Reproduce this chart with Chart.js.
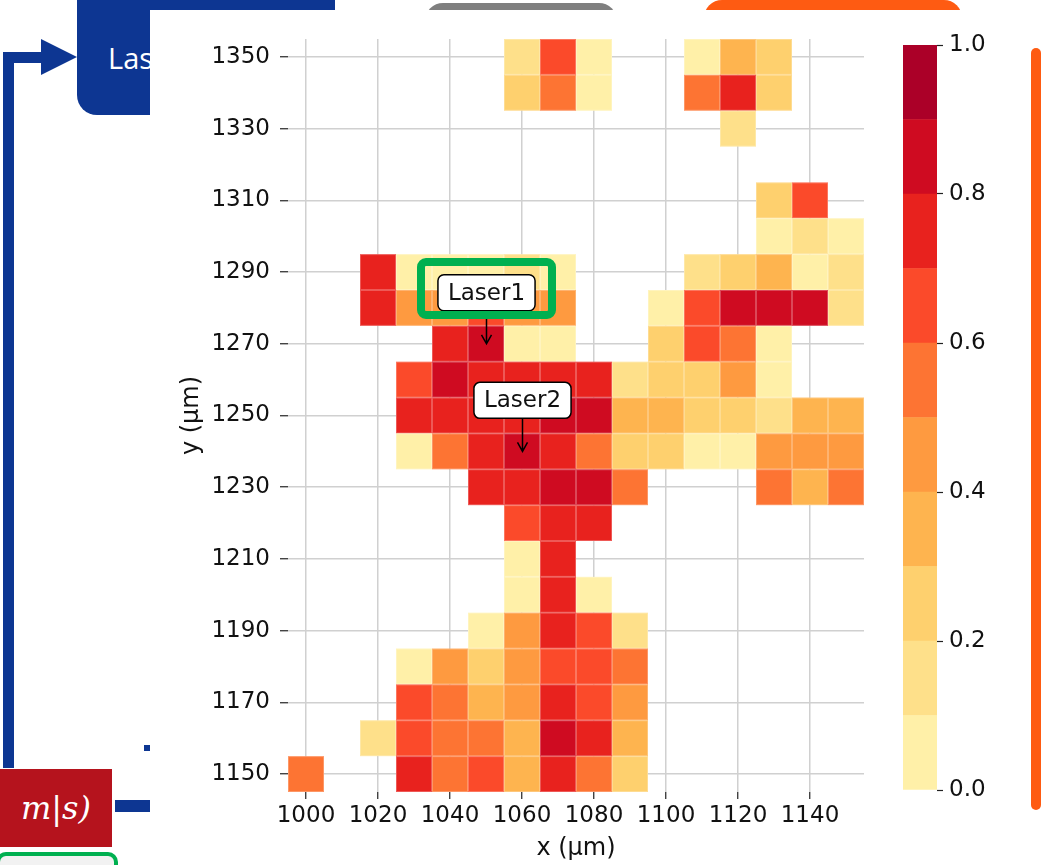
<!DOCTYPE html>
<html>
<head>
<meta charset="utf-8">
<script src="https://cdn.jsdelivr.net/npm/chart.js@4.4.0/dist/chart.umd.min.js"></script>
<style>
  html, body { margin: 0; padding: 0; background: #fff; }
  body { width: 1043px; height: 865px; position: relative; overflow: hidden; font-family: "Open Sans", sans-serif; }
  .abs { position: absolute; }
  .blue { background: #0d3692; }
</style>
</head>
<body>
  <!-- slide pieces behind the figure -->
  <div class="abs blue" style="left:77px;top:-20px;width:258px;height:135px;border-radius:20px;"></div>
  <div class="abs" style="left:108px;top:43px;color:#fff;font-size:29px;line-height:29px;">Las</div>
  <div class="abs" style="left:425px;top:3px;width:192px;height:40px;border-radius:18px;background:#7f7f7f;"></div>
  <div class="abs" style="left:704px;top:0px;width:258px;height:40px;border-radius:18px;background:#fe5b12;"></div>

  <div class="abs blue" style="left:3px;top:52px;width:11px;height:716px;"></div>
  <div class="abs blue" style="left:3px;top:52px;width:42px;height:11px;"></div>
  <div class="abs" style="left:41px;top:39px;width:0;height:0;border-top:18px solid transparent;border-bottom:18px solid transparent;border-left:36px solid #0d3692;"></div>
  <div class="abs blue" style="left:144px;top:745px;width:6px;height:6px;"></div>
  <div class="abs blue" style="left:115px;top:800px;width:35px;height:12px;"></div>
  <div class="abs" style="left:0;top:769px;width:112px;height:78px;background:#b5131d;color:#fff;font-family:'DejaVu Serif',serif;font-style:italic;font-size:32px;line-height:78px;text-align:center;">m|s)</div>
  <div class="abs" style="left:-4px;top:852px;width:122px;height:40px;box-sizing:border-box;border:4px solid #00b050;border-radius:10px;background:#f2f2f2;"></div>

  <!-- figure panel -->
  <div class="abs" style="left:150px;top:10px;width:893px;height:855px;background:#fff;"></div>
  <canvas id="heat" class="abs" width="893" height="855" style="left:150px;top:10px;"></canvas>
  <canvas id="cbar" class="abs" width="110" height="790" style="left:895px;top:20px;"></canvas>

  <!-- slide pieces on top -->
  <div class="abs" style="left:417px;top:258px;width:139px;height:61px;box-sizing:border-box;border:8px solid #00b050;border-radius:9px;"></div>
  <div class="abs" style="left:1031px;top:48px;width:10px;height:762px;border-radius:5px;background:#fe5b12;"></div>

<script>
// grid of the heat map
const xCols = [1000, 1010, 1020, 1030, 1040, 1050, 1060, 1070, 1080, 1090, 1100, 1110, 1120, 1130, 1140, 1150];
const yRows = [1350, 1340, 1330, 1320, 1310, 1300, 1290, 1280, 1270, 1260, 1250, 1240, 1230, 1220, 1210, 1200, 1190, 1180, 1170, 1160, 1150];
const xTicks = [1000, 1020, 1040, 1060, 1080, 1100, 1120, 1140];
const yTicks = [1150, 1170, 1190, 1210, 1230, 1250, 1270, 1290, 1310, 1330, 1350];
const cbBounds = [0, 0.1, 0.2, 0.3, 0.4, 0.5, 0.6, 0.7, 0.8, 0.9, 1.0];
const cbTicks = [0, 0.2, 0.4, 0.6, 0.8, 1.0];
const levelColors = ['#fff0a8', '#fee08a', '#fed06e', '#feb44f', '#fe9a40',
                     '#fd7433', '#fb4a2a', '#e8221e', '#cf0b21', '#ab0028'];

const _ = null;
// one row per y value (top to bottom), one column per x value
const zValues = [
  [_, _, _, _, _, _, .15, .65, .05, _, _, .05, .35, .25, _, _],
  [_, _, _, _, _, _, .25, .55, .05, _, _, .55, .75, .25, _, _],
  [_, _, _, _, _, _, _, _, _, _, _, _, .15, _, _, _],
  [_, _, _, _, _, _, _, _, _, _, _, _, _, _, _, _],
  [_, _, _, _, _, _, _, _, _, _, _, _, _, .25, .65, _],
  [_, _, _, _, _, _, _, _, _, _, _, _, _, .05, .15, .05],
  [_, _, .75, .05, .05, .05, .15, .05, _, _, _, .15, .25, .35, .05, .15],
  [_, _, .75, .45, .45, .65, .45, .45, _, _, .05, .65, .85, .85, .85, .15],
  [_, _, _, _, .75, .85, .05, .05, _, _, .25, .65, .55, .05, _, _],
  [_, _, _, .65, .85, .75, .75, .75, .75, .15, .25, .25, .45, .05, _, _],
  [_, _, _, .75, .75, .75, .75, .85, .85, .35, .35, .25, .25, .15, .35, .35],
  [_, _, _, .05, .55, .75, .85, .75, .55, .25, .25, .05, .05, .45, .45, .45],
  [_, _, _, _, _, .75, .75, .85, .85, .55, _, _, _, .55, .35, .55],
  [_, _, _, _, _, _, .65, .75, .75, _, _, _, _, _, _, _],
  [_, _, _, _, _, _, .05, .75, _, _, _, _, _, _, _, _],
  [_, _, _, _, _, _, .05, .75, .05, _, _, _, _, _, _, _],
  [_, _, _, _, _, .05, .45, .75, .65, .15, _, _, _, _, _, _],
  [_, _, _, .05, .45, .25, .45, .65, .65, .55, _, _, _, _, _, _],
  [_, _, _, .65, .55, .35, .45, .75, .65, .45, _, _, _, _, _, _],
  [_, _, .15, .65, .55, .55, .35, .85, .75, .35, _, _, _, _, _, _],
  [.55, _, _, .75, .55, .65, .35, .75, .55, .25, _, _, _, _, _, _]
];

const annoText = ['Laser1', 'Laser2'];
const annoX = [1050, 1060];
const annoY = [1270, 1240];

function colorFor(v) {
  let i = 0;
  while (i < levelColors.length - 1 && v >= cbBounds[i + 1]) i++;
  return levelColors[i];
}

const points = [];
yRows.forEach((yv, r) => {
  xCols.forEach((xv, c) => {
    if (zValues[r][c] !== null) points.push({x: xv, y: yv, v: zValues[r][c]});
  });
});

const halfX = (xCols[1] - xCols[0]) / 2;
const halfY = (yRows[0] - yRows[1]) / 2;
const tickFont = {family: 'DejaVu Sans', size: 23};
const titleFont = {family: 'DejaVu Sans', size: 24};

const heatCells = {
  id: 'heatCells',
  beforeDatasetsDraw(chart) {
    const ctx = chart.ctx, sx = chart.scales.x, sy = chart.scales.y;
    ctx.save();
    chart.data.datasets[0].data.forEach(p => {
      const x0 = sx.getPixelForValue(p.x - halfX), x1 = sx.getPixelForValue(p.x + halfX);
      const y0 = sy.getPixelForValue(p.y + halfY), y1 = sy.getPixelForValue(p.y - halfY);
      ctx.fillStyle = colorFor(p.v);
      ctx.fillRect(x0, y0, x1 - x0, y1 - y0);
      ctx.strokeStyle = 'rgba(255,255,255,0.25)';
      ctx.lineWidth = 1;
      ctx.strokeRect(x0 + 0.5, y0 + 0.5, x1 - x0 - 1, y1 - y0 - 1);
    });
    ctx.restore();
  }
};

const laserLabels = {
  id: 'laserLabels',
  afterDatasetsDraw(chart) {
    const ctx = chart.ctx, sx = chart.scales.x, sy = chart.scales.y;
    ctx.save();
    ctx.font = '23px "DejaVu Sans"';
    annoText.forEach((t, i) => {
      const px = Math.round(sx.getPixelForValue(annoX[i])) + 0.5;
      const py = sy.getPixelForValue(annoY[i]);
      const cy = py - 51;
      const w = ctx.measureText(t).width + 20, h = 36;
      // arrow
      ctx.strokeStyle = '#000';
      ctx.lineWidth = 1.5;
      ctx.beginPath();
      ctx.moveTo(px, cy + h / 2);
      ctx.lineTo(px, py);
      ctx.moveTo(px - 5, py - 9);
      ctx.lineTo(px, py);
      ctx.lineTo(px + 5, py - 9);
      ctx.stroke();
      // box
      ctx.beginPath();
      ctx.roundRect(px - w / 2, cy - h / 2, w, h, 6);
      ctx.fillStyle = '#fff';
      ctx.fill();
      ctx.stroke();
      ctx.fillStyle = '#111';
      ctx.textAlign = 'center';
      ctx.textBaseline = 'middle';
      ctx.fillText(t, px, cy + 1);
    });
    ctx.restore();
  }
};

new Chart(document.getElementById('heat'), {
  type: 'scatter',
  data: { datasets: [{ data: points, pointRadius: 0, pointHoverRadius: 0 }] },
  options: {
    responsive: false,
    animation: false,
    layout: { padding: { left: 0, top: 29, right: 179, bottom: 0 } },
    plugins: { legend: { display: false }, tooltip: { enabled: false } },
    scales: {
      x: {
        type: 'linear', min: 995, max: 1155,
        afterBuildTicks: a => { a.ticks = xTicks.map(v => ({value: v})); },
        afterFit: a => { a.height = 73; },
        grid: { color: '#d0d0d0', lineWidth: 1.5, tickColor: '#222', tickLength: 7, tickWidth: 1.2 },
        border: { display: false },
        ticks: { font: tickFont, color: '#111', padding: 3, maxRotation: 0, autoSkip: false, callback: v => String(v) },
        title: { display: true, text: 'x (µm)', font: titleFont, color: '#111', padding: { top: 0, bottom: 2 } }
      },
      y: {
        type: 'linear', min: 1145, max: 1355,
        afterBuildTicks: a => { a.ticks = yTicks.map(v => ({value: v})); },
        afterFit: a => { a.width = 138; },
        grid: { color: '#d0d0d0', lineWidth: 1.5, tickColor: '#222', tickLength: 8, tickWidth: 1.2 },
        border: { display: false },
        ticks: { font: tickFont, color: '#111', padding: 10, autoSkip: false, callback: v => String(v) },
        title: { display: true, text: 'y (µm)', font: titleFont, color: '#111', padding: { top: 27, bottom: 0 } }
      }
    }
  },
  plugins: [heatCells, laserLabels]
});

new Chart(document.getElementById('cbar'), {
  type: 'bar',
  data: {
    labels: [''],
    datasets: levelColors.map((c, i) => ({
      data: [[cbBounds[i], cbBounds[i + 1]]],
      backgroundColor: c,
      borderWidth: 0,
      barPercentage: 1,
      categoryPercentage: 1,
      grouped: false
    }))
  },
  options: {
    responsive: false,
    animation: false,
    layout: { padding: { left: 8, top: 25, right: 0, bottom: 20 } },
    plugins: { legend: { display: false }, tooltip: { enabled: false } },
    scales: {
      x: { display: false },
      y: {
        position: 'right', min: 0, max: 1,
        afterBuildTicks: a => { a.ticks = cbTicks.map(v => ({value: v})); },
        afterFit: a => { a.width = 68; },
        grid: { drawOnChartArea: false, drawTicks: true, tickLength: 6, tickColor: '#222', tickWidth: 1.2 },
        border: { display: false },
        ticks: { font: tickFont, color: '#111', padding: 6, callback: v => v.toFixed(1) }
      }
    }
  }
});
</script>
</body>
</html>
